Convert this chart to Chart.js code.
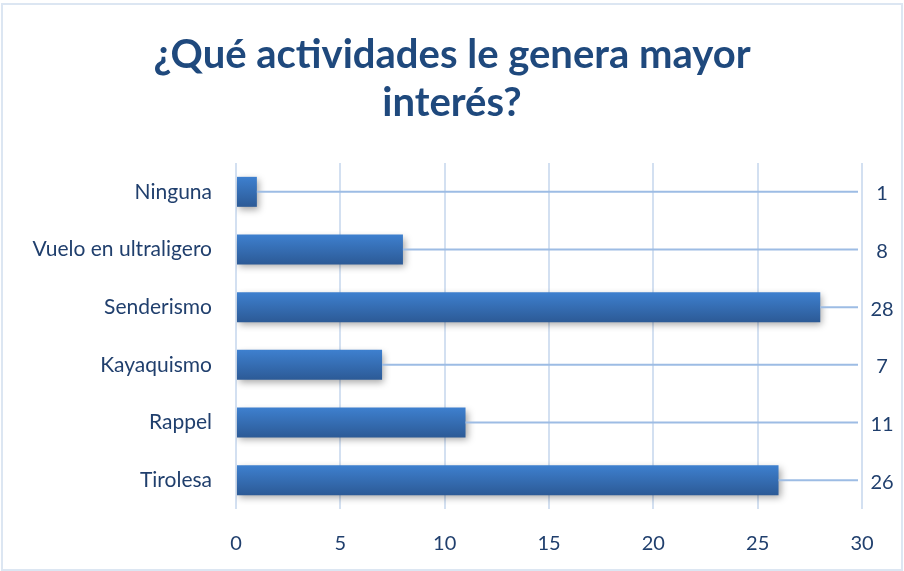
<!DOCTYPE html>
<html>
<head>
<meta charset="utf-8">
<script src="https://cdn.jsdelivr.net/npm/chart.js@4"></script>
<style>
  html, body { margin: 0; padding: 0; background: #fff; }
  #wrap { position: absolute; left: 1px; top: 3px; width: 898px; height: 564px; border: 2px solid #DCE6F2; }
  canvas { position: absolute; left: -3px; top: -5px; }
</style>
</head>
<body>
<div id="wrap"><canvas id="chart" width="904" height="571"></canvas></div>
<script>
var categories = ["Ninguna", "Vuelo en ultraligero", "Senderismo", "Kayaquismo", "Rappel", "Tirolesa"];
var values = [1, 8, 28, 7, 11, 26];
var xTicks = [0, 5, 10, 15, 20, 25, 30];

var textColor = "#203F6D";
var barPct = 0.52;

// leader lines + value labels on the right
var leaderLabels = {
  id: "leaderLabels",
  afterDatasetsDraw: function (chart) {
    var ctx = chart.ctx;
    var meta = chart.getDatasetMeta(0);
    var right = chart.chartArea.right - 4;
    ctx.save();
    ctx.strokeStyle = "#9DBCE4";
    ctx.lineWidth = 2;
    ctx.fillStyle = textColor;
    ctx.font = "20px Lato";
    ctx.textAlign = "center";
    ctx.textBaseline = "middle";
    meta.data.forEach(function (bar, i) {
      ctx.beginPath();
      ctx.moveTo(bar.x, bar.y);
      ctx.lineTo(right, bar.y);
      ctx.stroke();
      ctx.fillText(String(values[i]), chart.chartArea.right + 20, bar.y + 2);
    });
    ctx.restore();
  }
};

var barShadow = {
  id: "barShadow",
  beforeDatasetsDraw: function (chart) {
    var ctx = chart.ctx;
    ctx.save();
    ctx.shadowColor = "rgba(0,0,0,0.35)";
    ctx.shadowBlur = 7;
    ctx.shadowOffsetX = 2;
    ctx.shadowOffsetY = 3;
  },
  afterDatasetsDraw: function (chart) {
    chart.ctx.restore();
  }
};

new Chart(document.getElementById("chart"), {
  type: "bar",
  data: {
    labels: categories,
    datasets: [{
      data: values,
      backgroundColor: function (c) {
        var s = c.chart.scales.y;
        if (!s || s.bottom === undefined) return "#3A75C0";
        var band = (s.bottom - s.top) / categories.length;
        var cy = s.getPixelForValue(c.dataIndex);
        var h = band * barPct;
        var g = c.chart.ctx.createLinearGradient(0, cy - h / 2, 0, cy + h / 2);
        g.addColorStop(0, "#3E80CF");
        g.addColorStop(1, "#2C5A96");
        return g;
      },
      borderWidth: 0,
      barPercentage: barPct,
      categoryPercentage: 1
    }]
  },
  plugins: [barShadow, leaderLabels],
  options: {
    responsive: false,
    animation: false,
    indexAxis: "y",
    layout: { padding: { left: 10, right: 10, top: 4, bottom: 0 } },
    plugins: {
      legend: { display: false },
      tooltip: { enabled: false },
      title: {
        display: true,
        text: ["¿Qué actividades le genera mayor", "interés?"],
        color: "#1F497D",
        font: { family: "Lato", size: 40, weight: "bold", lineHeight: 1.2 },
        padding: { top: 27, bottom: 36 }
      }
    },
    scales: {
      x: {
        min: 0, max: 30,
        afterBuildTicks: function (s) { s.ticks = xTicks.map(function (v) { return { value: v }; }); },
        afterFit: function (s) { s.height = 62; },
        grid: { color: "#D3E0F1", lineWidth: 2, drawTicks: false },
        border: { display: false },
        ticks: { color: textColor, font: { family: "Lato", size: 20 }, padding: 23 }
      },
      y: {
        afterFit: function (s) { s.width = 226; },
        grid: { display: false },
        border: { display: false },
        ticks: { color: textColor, font: { family: "Lato", size: 21 }, padding: 16 }
      },
      yRight: {
        type: "category",
        position: "right",
        labels: categories,
        afterFit: function (s) { s.width = 32; },
        grid: { display: false },
        border: { display: false },
        ticks: { display: false }
      }
    }
  }
});
</script>
</body>
</html>
